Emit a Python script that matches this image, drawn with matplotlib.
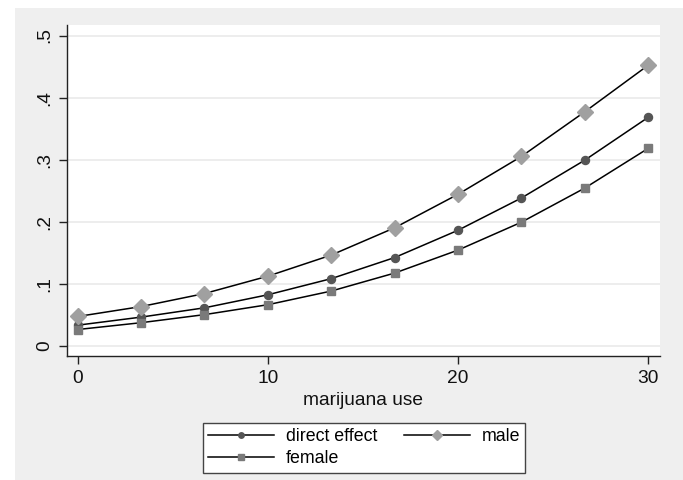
import matplotlib
matplotlib.use("Agg")
import matplotlib.pyplot as plt
from matplotlib.patches import Rectangle

plt.rcParams['font.family'] = ['Liberation Sans', 'DejaVu Sans']

# marijuana use values at which the predicted probabilities are evaluated
use = [0, 10/3, 20/3, 10, 40/3, 50/3, 20, 70/3, 80/3, 30]
direct_effect = [0.033, 0.046, 0.061, 0.082, 0.108, 0.142, 0.186, 0.238, 0.299, 0.368]
male = [0.047, 0.063, 0.084, 0.112, 0.146, 0.190, 0.244, 0.305, 0.377, 0.452]
female = [0.026, 0.037, 0.050, 0.066, 0.088, 0.117, 0.154, 0.199, 0.254, 0.318]

xticks = [0, 10, 20, 30]
yticks = [0, 0.1, 0.2, 0.3, 0.4, 0.5]
yticklabels = ["0", ".1", ".2", ".3", ".4", ".5"]

W, H = 683, 480
fig = plt.figure(figsize=(W / 100, H / 100), dpi=100, facecolor="white")

# light gray graph region
fig.patches.append(Rectangle((15 / W, 0), 1 - 15 / W, 1 - 8 / H,
                             transform=fig.transFigure, facecolor="#efefef",
                             edgecolor="none", zorder=-10))

ax = fig.add_axes([66.7 / W, 1 - 356 / H, (659.5 - 66.7) / W, (356 - 25) / H])
ax.set_facecolor("white")

l_dir, = ax.plot(use, direct_effect, color="black", lw=1.1, marker="o", ms=5.8,
                 mfc="#555555", mec="#555555", label="direct effect", zorder=3)
l_male, = ax.plot(use, male, color="black", lw=1.1, marker="D", ms=7.8,
                  mfc="#a0a0a0", mec="#a0a0a0", label="male", zorder=3)
l_fem, = ax.plot(use, female, color="black", lw=1.1, marker="s", ms=6.0,
                 mfc="#7a7a7a", mec="#7a7a7a", label="female", zorder=3)

ax.set_xlim(-0.58, 30.6)
ax.set_ylim(-0.0167, 0.517)
ax.set_xticks(xticks)
ax.set_xticklabels([str(t) for t in xticks])
ax.set_yticks(yticks)
ax.set_yticklabels(yticklabels, rotation=90, va="center")

ax.grid(axis="y", color="#eaeaea", lw=1.2)
ax.set_axisbelow(True)
for side in ("top", "right"):
    ax.spines[side].set_visible(False)
for side in ("left", "bottom"):
    ax.spines[side].set_color("#222222")
    ax.spines[side].set_linewidth(1.0)

ax.tick_params(axis="both", direction="out", length=6, width=1.0,
               color="#222222", labelsize=13.8, labelcolor="#111111")
ax.tick_params(axis="x", pad=4)
ax.tick_params(axis="y", pad=4)

ax.set_xlabel("marijuana use", fontsize=13.8, color="#111111", labelpad=4)

# two-column key: direct effect / male on the first row, female below
leg = fig.legend([l_dir, l_fem, l_male], ["direct effect", "female", "male"],
                 loc="center", bbox_to_anchor=(364 / W, 1 - 447.5 / H),
                 ncol=2, frameon=True, fancybox=False, fontsize=12.8,
                 handlelength=3.7, handletextpad=0.67, columnspacing=1.5,
                 borderpad=0.3, borderaxespad=0, labelspacing=0.3,
                 markerscale=0.68, framealpha=1)
leg.get_frame().set_edgecolor("#444444")
leg.get_frame().set_linewidth(1.0)
leg.get_frame().set_facecolor("white")

fig.savefig("out.png", dpi=100, facecolor=fig.get_facecolor())
